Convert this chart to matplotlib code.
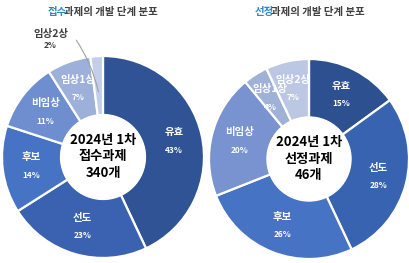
import matplotlib
matplotlib.use("Agg")
import matplotlib.pyplot as plt
import numpy as np

plt.rcParams['font.family'] = ['Noto Sans CJK KR', 'DejaVu Sans']

categories = ['유효', '선도', '후보', '비임상', '임상1상', '임상2상']
left_values = [43, 23, 14, 11, 7, 2]
right_values = [15, 28, 26, 20, 4, 7]
left_title = ('접수', '과제의 개발 단계 분포')
right_title = ('선정', '과제의 개발 단계 분포')
left_center = ['2024년 1차', '접수과제', '340개']
right_center = ['2024년 1차', '선정과제', '46개']

left_colors = ['#2F5394', '#3A62B0', '#4673C4', '#6E8ED0', '#9DB0DA', '#C3CEE8']
right_colors = ['#2D5091', '#3763B0', '#4673C4', '#7893CF', '#A0B1D8', '#BCC8E3']

fig = plt.figure(figsize=(4.10, 2.63), dpi=100)


def draw(ax, values, colors, center_lines, outside_idx=None):
    wedges, _ = ax.pie(values, colors=colors, startangle=90, counterclock=False,
                       radius=1.0,
                       wedgeprops=dict(width=0.59, edgecolor='white', linewidth=1.6))
    for i, (w, v) in enumerate(zip(wedges, values)):
        ang = np.deg2rad((w.theta1 + w.theta2) / 2)
        if outside_idx is not None and i == outside_idx:
            continue
        r = 0.72
        x, y = r * np.cos(ang), r * np.sin(ang)
        ax.text(x, y + 0.09, categories[i], ha='center', va='center', color='white',
                fontsize=7.5, fontweight='bold')
        ax.text(x, y - 0.09, f'{v}%', ha='center', va='center', color='white',
                fontsize=6, fontweight='bold')
    if outside_idx is not None:
        w = wedges[outside_idx]
        ang = np.deg2rad((w.theta1 + w.theta2) / 2)
        px, py = 0.62 * np.cos(ang), 0.62 * np.sin(ang)
        ax.annotate('', xy=(px, py), xytext=(-0.28, 1.18),
                    arrowprops=dict(arrowstyle='-', color='#A0A0A0', lw=0.8,
                                    connectionstyle='arc3,rad=-0.1'))
        ax.text(-0.52, 1.22, categories[outside_idx], ha='center', va='center',
                color='#404040', fontsize=7.5, fontweight='bold')
        ax.text(-0.52, 1.10, f'{values[outside_idx]}%', ha='center', va='center',
                color='#404040', fontsize=6, fontweight='bold')
    ax.add_patch(plt.Circle((0, 0), 0.42, color='white', zorder=3))
    for j, line in enumerate(center_lines):
        ax.text(0, 0.17 - j * 0.165, line, ha='center', va='center', fontsize=9.5,
                fontweight='bold', color='black', zorder=4)
    ax.set_xlim(-1.02, 1.02)
    ax.set_ylim(-1.02, 1.02)
    ax.set_aspect('equal')
    ax.axis('off')


axL = fig.add_axes([0 / 410, 3 / 263, 206 / 410, 206 / 263])
axR = fig.add_axes([207 / 410, 1 / 263, 204 / 410, 206 / 263])

draw(axL, left_values, left_colors, left_center, outside_idx=5)
draw(axR, right_values, right_colors, right_center)

fig.canvas.draw()
renderer = fig.canvas.get_renderer()


def title(xc, pair):
    y = 1 - 12 / 263
    kw = dict(va='center', fontsize=7.5, fontweight='bold')
    p0 = fig.text(0, y, pair[0], ha='left', **kw)
    p1 = fig.text(0, y, pair[1], ha='left', **kw)
    w0 = p0.get_window_extent(renderer).width
    w1 = p1.get_window_extent(renderer).width
    p0.remove()
    p1.remove()
    gap = -3.0
    total = w0 + gap + w1
    x0 = xc - total / 2
    fig.text((x0 + w0) / 410, y, pair[0], ha='right', color='#2E86C1', **kw)
    fig.text((x0 + w0 + gap) / 410, y, pair[1], ha='left', color='#404040', **kw)


title(103, left_title)
title(310, right_title)

fig.savefig('out.png', dpi=100, facecolor='white')
